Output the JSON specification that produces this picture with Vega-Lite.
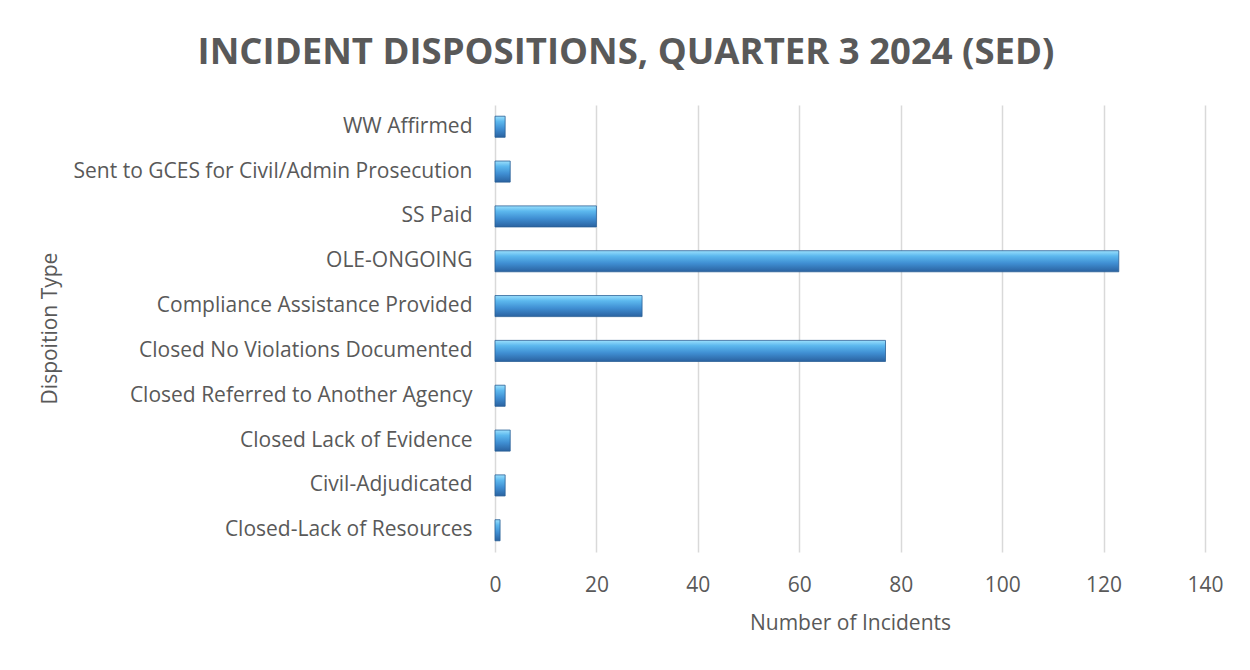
{
  "$schema": "https://vega.github.io/schema/vega-lite/v6.json",
  "autosize": "none",
  "width": 710,
  "height": 447,
  "padding": {"left": 495, "top": 105, "right": 45, "bottom": 118},
  "background": "white",
  "title": {
    "text": "INCIDENT DISPOSITIONS, QUARTER 3 2024 (SED)",
    "font": "Open Sans",
    "fontSize": 36.5,
    "fontWeight": "bold",
    "color": "#595959",
    "anchor": "middle",
    "frame": "group",
    "dx": -224,
    "offset": 34
  },
  "data": {
    "values": [
      {"type": "WW Affirmed", "count": 2},
      {"type": "Sent to GCES for Civil/Admin Prosecution", "count": 3},
      {"type": "SS Paid", "count": 20},
      {"type": "OLE-ONGOING", "count": 123},
      {"type": "Compliance Assistance Provided", "count": 29},
      {"type": "Closed No Violations Documented", "count": 77},
      {"type": "Closed Referred to Another Agency", "count": 2},
      {"type": "Closed Lack of Evidence", "count": 3},
      {"type": "Civil-Adjudicated", "count": 2},
      {"type": "Closed-Lack of Resources", "count": 1}
    ]
  },
  "mark": {
    "type": "bar",
    "stroke": "#2a5f96",
    "strokeWidth": 0.8,
    "color": {
      "gradient": "linear",
      "x1": 0, "y1": 0, "x2": 0, "y2": 1,
      "stops": [
        {"offset": 0, "color": "#9be0fd"},
        {"offset": 0.25, "color": "#5cb8ee"},
        {"offset": 0.6, "color": "#3f8ed2"},
        {"offset": 1, "color": "#2a62a0"}
      ]
    }
  },
  "encoding": {
    "y": {
      "field": "type",
      "type": "nominal",
      "sort": null,
      "scale": {"paddingInner": 0.53, "paddingOuter": 0.25},
      "axis": {
        "title": "Dispoition Type",
        "titleFont": "Open Sans",
        "titleFontSize": 21,
        "titleFontWeight": "normal",
        "titleColor": "#595959",
        "titleX": -445,
        "titleY": 223,
        "titleAngle": -90,
        "titleAlign": "center",
        "titleBaseline": "middle",
        "labelFont": "Open Sans",
        "labelFontSize": 21,
        "labelColor": "#595959",
        "labelLimit": 500,
        "labelPadding": 23,
        "ticks": false,
        "domain": false
      }
    },
    "x": {
      "field": "count",
      "type": "quantitative",
      "scale": {"domain": [0, 140], "nice": false},
      "axis": {
        "values": [0, 20, 40, 60, 80, 100, 120, 140],
        "title": "Number of Incidents",
        "titleFont": "Open Sans",
        "titleFontSize": 21,
        "titleFontWeight": "normal",
        "titleColor": "#595959",
        "titlePadding": 17,
        "labelFont": "Open Sans",
        "labelFontSize": 21,
        "labelColor": "#595959",
        "labelPadding": 22,
        "labelFlush": false,
        "ticks": false,
        "domain": false,
        "grid": true,
        "gridColor": "#d9d9d9",
        "gridWidth": 1.5
      }
    }
  },
  "config": {"view": {"stroke": null}}
}
